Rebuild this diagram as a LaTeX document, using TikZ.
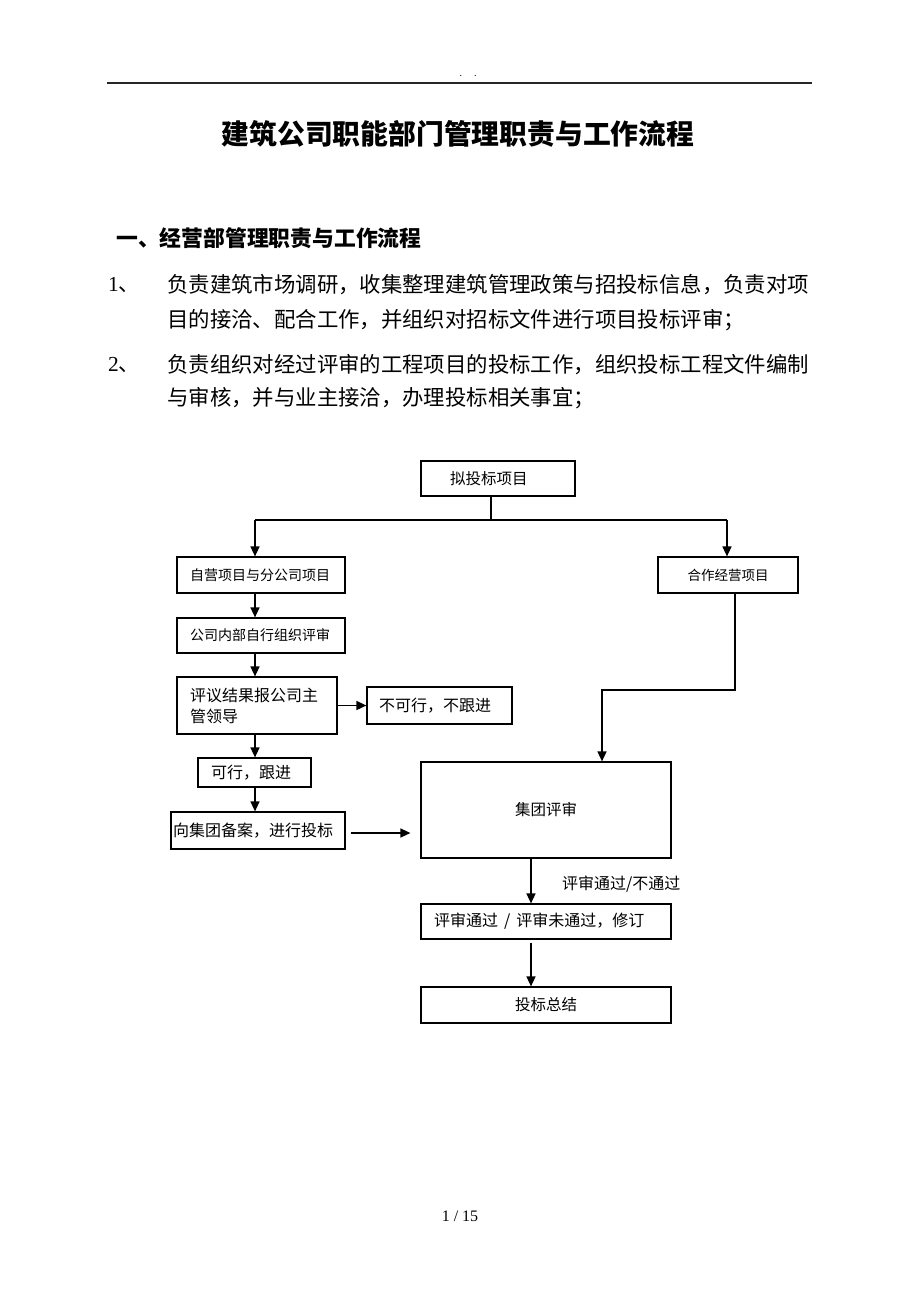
\documentclass[tikz,border=0pt]{standalone}
\usepackage{fontspec}
\setmainfont{Noto Sans CJK SC}
\newfontfamily\timesfont{Liberation Serif}
\usetikzlibrary{arrows.meta}
\newcommand{\fsz}[1]{\fontsize{#1}{#1}\selectfont}

\begin{document}
\begin{tikzpicture}[
    x=1pt, y=-1pt,
    every node/.style={inner sep=0pt},
    box/.style={draw, line width=1.2pt, align=left},
    cbox/.style={draw, line width=1.2pt, align=center},
    para/.style={anchor=west, font=\fsz{21.4}},
    lbl/.style={anchor=west, font=\fsz{16}},
    arrow/.style={-{Triangle[length=10pt, width=9pt]}, line width=1.5pt},
    link/.style={line width=1.5pt}
  ]

  \useasboundingbox (0,0) rectangle (920,1302);

  % Page header and title
  \draw[line width=1.6pt, black!85] (107,83) -- (812,83);
  \node[font=\fsz{9}] (hdr) at (468,76) {.\hspace{12pt}.};
  \node[font=\bfseries\fsz{27.8}] (title) at (458,134) {建筑公司职能部门管理职责与工作流程};

  % Section text
  \node[para, font=\bfseries\fsz{21.8}] (sect) at (116,238) {一、经营部管理职责与工作流程};
  \node[para] (n1) at (108,285) {\timesfont 1\normalfont 、};
  \node[para] (p1a) at (167,285) {负责建筑市场调研，收集整理建筑管理政策与招投标信息，负责对项};
  \node[para] (p1b) at (167,320) {目的接洽、配合工作，并组织对招标文件进行项目投标评审；};
  \node[para] (n2) at (108,365) {\timesfont 2\normalfont 、};
  \node[para] (p2a) at (167,365) {负责组织对经过评审的工程项目的投标工作，组织投标工程文件编制};
  \node[para] (p2b) at (167,398) {与审核，并与业主接洽，办理投标相关事宜；};

  % Nodes
  \node[box, text width=96pt, inner xsep=29pt, minimum height=35pt, font=\fsz{15.5}] (tou) at (498,478.5) {拟投标项目};
  \node[box, text width=142pt, inner xsep=13pt, minimum height=36pt, font=\fsz{14}] (ziying) at (261,575) {自营项目与分公司项目};
  \node[cbox, minimum width=140pt, minimum height=36pt, font=\fsz{13.5}] (hezuo) at (728,575) {合作经营项目};
  \node[box, text width=142pt, inner xsep=13pt, minimum height=35pt, font=\fsz{14}] (neibu) at (261,635.5) {公司内部自行组织评审};
  \node[box, text width=134pt, inner xsep=13pt, minimum height=57pt, font=\fontsize{16}{21}\selectfont] (pingyi) at (257,705.5) {评议结果报公司主\\管领导};
  \node[box, text width=121pt, inner xsep=12pt, minimum height=37pt, font=\fsz{16}] (buke) at (439.5,705.5) {不可行，不跟进};
  \node[box, text width=87pt, inner xsep=13pt, minimum height=29pt, font=\fsz{16}] (kexing) at (254.5,772.5) {可行，跟进};
  \node[box, text width=170pt, inner xsep=2pt, minimum height=37pt, font=\fsz{16}] (beian) at (258,830.5) {向集团备案，进行投标};
  \node[cbox, minimum width=250pt, minimum height=96pt, font=\fsz{15.5}] (jituan) at (546,810) {集团评审};
  \node[box, text width=224pt, inner xsep=13pt, minimum height=35pt, font=\fsz{16}] (pingshen) at (546,921.5) {评审通过\hspace{6pt}/\hspace{6pt}评审未通过，修订};
  \node[cbox, minimum width=250pt, minimum height=36pt, font=\fsz{15.5}] (zongjie) at (546,1005) {投标总结};
  \node[lbl] (passlbl) at (562,884) {评审通过/不通过};

  % Page number
  \node[font=\timesfont\fsz{16}] (pgno) at (460,1216) {1\hspace{4pt}/ 15};

  % Arrows
  \coordinate (split) at (491,520);
  \coordinate (lx) at (255,520);
  \coordinate (rx) at (727,520);
  \coordinate (bend1) at (735,690);
  \coordinate (bend2) at (602,690);
  \coordinate (mx) at (531,0);
  \draw[link] (split |- tou.south) -- (split);
  \draw[link] (lx) -- (rx);
  \draw[arrow] (lx) -- (lx |- ziying.north);
  \draw[arrow] (rx) -- (rx |- hezuo.north);
  \draw[arrow] (lx |- ziying.south) -- (lx |- neibu.north);
  \draw[arrow] (lx |- neibu.south) -- (lx |- pingyi.north);
  \draw[arrow] (pingyi) -- (buke);
  \draw[arrow] (lx |- pingyi.south) -- (lx |- kexing.north);
  \draw[arrow] (lx |- kexing.south) -- (lx |- beian.north);
  \draw[arrow, shorten <=5pt, shorten >=10pt] ([yshift=-2.5pt]beian.east) -- ([yshift=-2.5pt]beian.east -| jituan.west);
  \draw[arrow] (bend1 |- hezuo.south) -- (bend1) -- (bend2) -- (bend2 |- jituan.north);
  \draw[arrow] (mx |- jituan.south) -- (mx |- pingshen.north);
  \draw[arrow, shorten <=3pt] (mx |- pingshen.south) -- (mx |- zongjie.north);

\end{tikzpicture}
\end{document}
